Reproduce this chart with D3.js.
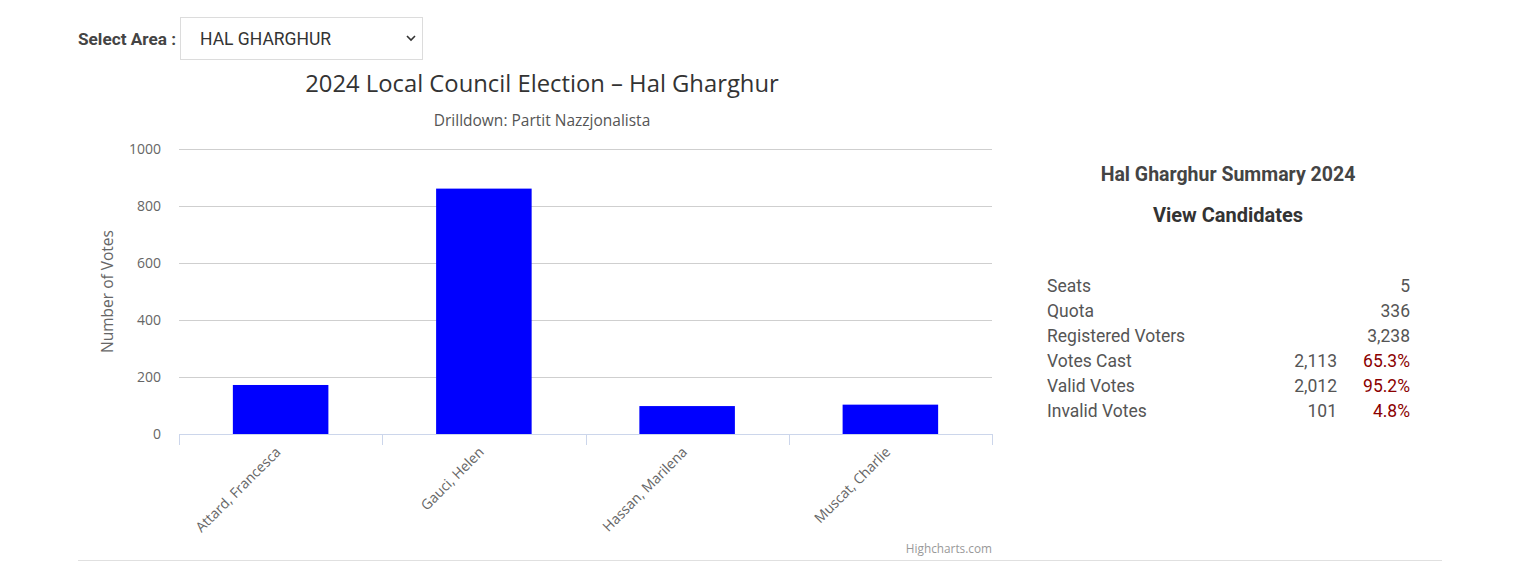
<!DOCTYPE html>
<html>
<head>
<meta charset="utf-8">
<script src="https://cdn.jsdelivr.net/npm/d3@7"></script>
<style>
  body { margin: 0; background: #fff; }
  svg text { font-family: "Open Sans", sans-serif; }
  .ui { font-family: Roboto, sans-serif !important; }
</style>
</head>
<body>
<svg id="page" width="1540" height="561"></svg>
<script>
// candidates of the drilldown and their votes
const candidates = ["Attard, Francesca", "Gauci, Helen", "Hassan, Marilena", "Muscat, Charlie"];
const votes = [172, 861, 98, 103];
const yTicks = [0, 200, 400, 600, 800, 1000];

// summary table
const summaryLabels = ["Seats", "Quota", "Registered Voters", "Votes Cast", "Valid Votes", "Invalid Votes"];
const summaryCounts = ["", "", "", "2,113", "2,012", "101"];
const summaryValues = ["5", "336", "3,238", "65.3%", "95.2%", "4.8%"];

const svg = d3.select('#page');

// area selector
svg.append('text').attr('class', 'ui')
  .attr('x', 78).attr('y', 45)
  .attr('font-size', 17.2).attr('font-weight', 'bold').attr('fill', '#444')
  .text('Select Area :');
svg.append('rect')
  .attr('x', 180.5).attr('y', 17.5).attr('width', 242).attr('height', 42)
  .attr('fill', '#fff').attr('stroke', '#dcdcdc');
svg.append('text').attr('class', 'ui')
  .attr('x', 200).attr('y', 45)
  .attr('font-size', 17.5).attr('fill', '#333')
  .text('HAL GHARGHUR');
svg.append('path')
  .attr('d', 'M407,36 L411,40 L415,36')
  .attr('fill', 'none').attr('stroke', '#333').attr('stroke-width', 1.6);

// chart
const margin = { left: 179, right: 992, top: 149, bottom: 434 };

const x = d3.scaleBand()
  .domain(candidates)
  .range([margin.left, margin.right])
  .paddingInner(0.53)
  .paddingOuter(0.265);

const y = d3.scaleLinear()
  .domain([0, 1000])
  .range([margin.bottom, margin.top]);

svg.append('text')
  .attr('x', 542).attr('y', 92)
  .attr('text-anchor', 'middle')
  .attr('font-size', 23.8).attr('fill', '#333')
  .text('2024 Local Council Election – Hal Gharghur');

svg.append('text')
  .attr('x', 542).attr('y', 126)
  .attr('text-anchor', 'middle')
  .attr('font-size', 15.5).attr('fill', '#555')
  .text('Drilldown: Partit Nazzjonalista');

// grid
svg.append('g')
  .selectAll('line')
  .data(yTicks.filter(d => d > 0))
  .enter()
  .append('line')
  .attr('x1', margin.left).attr('x2', margin.right)
  .attr('y1', d => Math.round(y(d)) + 0.5)
  .attr('y2', d => Math.round(y(d)) + 0.5)
  .attr('stroke', '#cfcfcf');

const yAxis = svg.append('g')
  .attr('transform', `translate(${margin.left - 18},0)`)
  .call(d3.axisLeft(y).tickValues(yTicks).tickFormat(d3.format('d')).tickSize(0).tickPadding(0));
yAxis.select('.domain').remove();
yAxis.selectAll('text')
  .attr('font-family', '"Open Sans", sans-serif')
  .attr('font-size', 14).attr('fill', '#666');

svg.append('text')
  .attr('transform', `translate(113,${(margin.top + margin.bottom) / 2}) rotate(-90)`)
  .attr('text-anchor', 'middle')
  .attr('font-size', 15.5).attr('fill', '#666')
  .text('Number of Votes');

// bars
svg.append('g')
  .selectAll('rect')
  .data(candidates)
  .enter()
  .append('rect')
  .attr('x', d => x(d))
  .attr('width', x.bandwidth())
  .attr('y', (d, i) => y(votes[i]))
  .attr('height', (d, i) => y(0) - y(votes[i]))
  .attr('fill', '#0000ff');

// x axis
const step = (margin.right - margin.left) / candidates.length;
const xg = svg.append('g');
xg.append('line')
  .attr('x1', margin.left).attr('x2', margin.right)
  .attr('y1', margin.bottom + 0.5).attr('y2', margin.bottom + 0.5)
  .attr('stroke', '#ccd6eb');
xg.selectAll('line.tick')
  .data(d3.range(candidates.length + 1))
  .enter()
  .append('line')
  .attr('class', 'tick')
  .attr('x1', i => Math.round(margin.left + i * step) + 0.5)
  .attr('x2', i => Math.round(margin.left + i * step) + 0.5)
  .attr('y1', margin.bottom).attr('y2', margin.bottom + 11)
  .attr('stroke', '#ccd6eb');
xg.selectAll('text')
  .data(candidates)
  .enter()
  .append('text')
  .attr('transform', d => `translate(${x(d) + x.bandwidth() / 2 + 1},${margin.bottom + 19}) rotate(-45)`)
  .attr('text-anchor', 'end')
  .attr('font-size', 14).attr('fill', '#666')
  .text(d => d);

svg.append('text')
  .attr('x', margin.right).attr('y', 553)
  .attr('text-anchor', 'end')
  .attr('font-size', 11.8).attr('fill', '#999')
  .text('Highcharts.com');

svg.append('line')
  .attr('x1', 78).attr('x2', 1442)
  .attr('y1', 560.5).attr('y2', 560.5)
  .attr('stroke', '#e0e0e0');

// summary panel
svg.append('text').attr('class', 'ui')
  .attr('x', 1228).attr('y', 181)
  .attr('text-anchor', 'middle')
  .attr('font-size', 19.5).attr('font-weight', 'bold').attr('fill', '#444')
  .text('Hal Gharghur Summary 2024');
svg.append('text').attr('class', 'ui')
  .attr('x', 1228).attr('y', 222)
  .attr('text-anchor', 'middle')
  .attr('font-size', 20).attr('font-weight', 'bold').attr('fill', '#333')
  .text('View Candidates');

const rows = svg.append('g')
  .selectAll('g')
  .data(summaryLabels)
  .enter()
  .append('g')
  .attr('transform', (d, i) => `translate(0,${292 + i * 25})`);
rows.append('text').attr('class', 'ui')
  .attr('x', 1047).attr('font-size', 17.5).attr('fill', '#555')
  .text(d => d);
rows.append('text').attr('class', 'ui')
  .attr('x', 1337).attr('text-anchor', 'end')
  .attr('font-size', 17.5).attr('fill', '#555')
  .text((d, i) => summaryCounts[i]);
rows.append('text').attr('class', 'ui')
  .attr('x', 1410).attr('text-anchor', 'end')
  .attr('font-size', 17.5)
  .attr('fill', (d, i) => summaryValues[i].includes('%') ? '#8b0000' : '#555')
  .text((d, i) => summaryValues[i]);
</script>
</body>
</html>
